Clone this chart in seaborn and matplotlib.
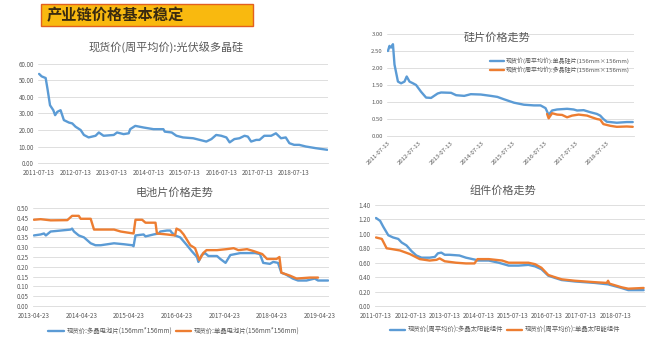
import matplotlib
matplotlib.use("Agg")
import matplotlib.pyplot as plt
import seaborn as sns
import pandas as pd
from matplotlib.patches import Rectangle

sns.set_theme(style="white")
plt.rcParams['font.family'] = ['Noto Sans CJK SC', 'DejaVu Sans']

BLUE = "#5B9BD5"
ORANGE = "#ED7D31"
GRID = "#D9D9D9"
TXT = "#595959"

header = "产业链价格基本稳定"

# ---------- Panel 1: polysilicon ----------
poly_title = "现货价(周平均价):光伏级多晶硅"
poly_t = [2011.53, 2011.60, 2011.71, 2011.76, 2011.83, 2011.92, 2011.97, 2012.03, 2012.12, 2012.21,
          2012.35, 2012.44, 2012.53, 2012.67, 2012.76, 2012.89, 2013.08, 2013.17, 2013.30, 2013.58,
          2013.67, 2013.85, 2013.99, 2014.03, 2014.17, 2014.40, 2014.67, 2014.94, 2014.98, 2015.17,
          2015.30, 2015.48, 2015.76, 2015.94, 2016.12, 2016.26, 2016.39, 2016.53, 2016.67, 2016.76,
          2016.89, 2017.03, 2017.17, 2017.26, 2017.35, 2017.49, 2017.58, 2017.71, 2017.90, 2018.03,
          2018.17, 2018.30, 2018.40, 2018.53, 2018.67, 2018.85, 2019.12, 2019.44]
poly_v = [54.0, 52.5, 51.5, 45.0, 35.0, 32.0, 29.0, 31.0, 32.0, 26.0,
          24.5, 24.0, 22.0, 20.0, 17.0, 15.5, 16.5, 18.5, 16.5, 17.0,
          18.5, 17.5, 18.0, 20.5, 22.5, 21.5, 20.5, 20.5, 19.0, 18.5,
          16.5, 15.5, 15.0, 14.0, 13.0, 14.5, 17.0, 16.5, 15.5, 12.5,
          14.5, 15.0, 16.5, 16.0, 13.0, 14.0, 14.0, 16.5, 16.5, 18.0,
          15.0, 15.5, 12.0, 11.0, 11.0, 10.0, 9.0, 8.0]
poly_ticks = ["2011-07-13", "2012-07-13", "2013-07-13", "2014-07-13",
              "2015-07-13", "2016-07-13", "2017-07-13", "2018-07-13"]

# ---------- Panel 2: wafers ----------
wafer_title = "硅片价格走势"
wafer_labels = ["现货价(周平均价):单晶硅片(156mm×156mm)", "现货价(周平均价):多晶硅片(156mm×156mm)"]
wafer_mono_t = [2011.53, 2011.58, 2011.63, 2011.69, 2011.74, 2011.85, 2011.95, 2012.06, 2012.13, 2012.22,
                2012.33, 2012.43, 2012.59, 2012.75, 2012.91, 2013.12, 2013.23, 2013.55, 2013.71, 2013.97,
                2014.18, 2014.50, 2014.82, 2015.03, 2015.24, 2015.56, 2015.88, 2016.20, 2016.41, 2016.57,
                2016.67, 2016.78, 2016.94, 2017.26, 2017.47, 2017.58, 2017.79, 2018.00, 2018.21, 2018.32,
                2018.42, 2018.53, 2018.85, 2019.17, 2019.36]
wafer_mono_v = [2.50, 2.65, 2.60, 2.70, 2.10, 1.60, 1.55, 1.60, 1.75, 1.60,
                1.55, 1.50, 1.30, 1.13, 1.12, 1.25, 1.28, 1.27, 1.20, 1.18,
                1.23, 1.22, 1.18, 1.15, 1.08, 0.98, 0.92, 0.90, 0.90, 0.82,
                0.62, 0.75, 0.78, 0.80, 0.78, 0.75, 0.76, 0.70, 0.65, 0.60,
                0.50, 0.42, 0.39, 0.41, 0.41]
wafer_multi_t = [2016.62, 2016.67, 2016.78, 2016.94, 2017.10, 2017.26, 2017.42, 2017.63, 2017.90, 2018.05,
                 2018.21, 2018.32, 2018.42, 2018.64, 2018.85, 2019.17, 2019.36]
wafer_multi_v = [0.65, 0.52, 0.67, 0.63, 0.62, 0.55, 0.60, 0.63, 0.60, 0.55,
                 0.50, 0.48, 0.35, 0.30, 0.27, 0.28, 0.27]

# ---------- Panel 3: cells ----------
cell_title = "电池片价格走势"
cell_labels = ["现货价:多晶电池片(156mm*156mm)", "现货价:单晶电池片(156mm*156mm)"]
cell_multi_t = [2013.31, 2013.45, 2013.52, 2013.56, 2013.66, 2013.87, 2014.08, 2014.11, 2014.15, 2014.25,
                2014.36, 2014.50, 2014.60, 2014.71, 2014.85, 2014.99, 2015.20, 2015.37, 2015.40, 2015.44,
                2015.61, 2015.65, 2015.82, 2015.93, 2015.96, 2016.10, 2016.17, 2016.20, 2016.27, 2016.38,
                2016.52, 2016.62, 2016.73, 2016.76, 2016.83, 2016.90, 2016.97, 2017.15, 2017.22, 2017.33,
                2017.43, 2017.64, 2017.78, 2017.95, 2018.05, 2018.12, 2018.26, 2018.33, 2018.43, 2018.50,
                2018.60, 2018.74, 2018.85, 2019.03, 2019.20, 2019.27, 2019.48]
cell_multi_v = [0.360, 0.365, 0.370, 0.360, 0.380, 0.385, 0.390, 0.395, 0.380, 0.360,
                0.350, 0.320, 0.310, 0.310, 0.315, 0.320, 0.315, 0.310, 0.305, 0.360,
                0.365, 0.355, 0.365, 0.370, 0.380, 0.385, 0.385, 0.375, 0.360, 0.350,
                0.310, 0.280, 0.250, 0.225, 0.260, 0.270, 0.255, 0.255, 0.240, 0.220,
                0.260, 0.270, 0.270, 0.270, 0.265, 0.220, 0.215, 0.225, 0.220, 0.170,
                0.160, 0.140, 0.130, 0.130, 0.140, 0.130, 0.130]
cell_mono_t = [2013.31, 2013.45, 2013.66, 2014.01, 2014.11, 2014.25, 2014.29, 2014.50, 2014.57, 2014.71,
               2014.99, 2015.13, 2015.26, 2015.40, 2015.44, 2015.58, 2015.65, 2015.86, 2015.89, 2016.10,
               2016.27, 2016.30, 2016.38, 2016.45, 2016.59, 2016.69, 2016.78, 2016.86, 2016.93, 2017.15,
               2017.35, 2017.50, 2017.60, 2017.78, 2017.92, 2018.10, 2018.20, 2018.40, 2018.46, 2018.50,
               2018.68, 2018.82, 2019.10, 2019.27]
cell_mono_v = [0.440, 0.443, 0.437, 0.438, 0.460, 0.460, 0.445, 0.445, 0.390, 0.390,
               0.390, 0.380, 0.375, 0.370, 0.440, 0.440, 0.425, 0.425, 0.370, 0.365,
               0.360, 0.395, 0.385, 0.365, 0.310, 0.295, 0.235, 0.270, 0.285, 0.285,
               0.290, 0.295, 0.285, 0.290, 0.280, 0.265, 0.240, 0.240, 0.250, 0.170,
               0.155, 0.140, 0.145, 0.145]
cell_ticks = ["2013-04-23", "2014-04-23", "2015-04-23", "2016-04-23",
              "2017-04-23", "2018-04-23", "2019-04-23"]

# ---------- Panel 4: modules ----------
mod_title = "组件价格走势"
mod_labels = ["现货价(周平均价):多晶太阳能组件", "现货价(周平均价):单晶太阳能组件"]
mod_a_t = [2011.53, 2011.65, 2011.74, 2011.89, 2012.03, 2012.18, 2012.28, 2012.42, 2012.57, 2012.71,
           2012.86, 2013.10, 2013.25, 2013.34, 2013.44, 2013.54, 2013.68, 2013.97, 2014.16, 2014.45,
           2014.50, 2014.83, 2015.12, 2015.41, 2015.70, 2015.99, 2016.18, 2016.37, 2016.57, 2016.76,
           2016.96, 2017.35, 2017.93, 2018.32, 2018.71, 2018.91, 2019.36]
mod_a_v = [1.22, 1.18, 1.10, 0.98, 0.95, 0.93, 0.88, 0.84, 0.76, 0.70,
           0.67, 0.67, 0.68, 0.73, 0.74, 0.71, 0.71, 0.70, 0.67, 0.64,
           0.63, 0.63, 0.60, 0.56, 0.56, 0.57, 0.55, 0.51, 0.42, 0.39,
           0.36, 0.34, 0.32, 0.30, 0.25, 0.22, 0.22]
mod_b_t = [2011.53, 2011.70, 2011.84, 2011.98, 2012.23, 2012.52, 2012.81, 2013.10, 2013.30, 2013.39,
           2013.54, 2013.87, 2014.16, 2014.41, 2014.50, 2014.83, 2015.22, 2015.41, 2015.99, 2016.18,
           2016.37, 2016.57, 2016.76, 2016.96, 2017.35, 2017.93, 2018.28, 2018.32, 2018.36, 2018.71,
           2018.91, 2019.36]
mod_b_v = [0.95, 0.93, 0.80, 0.79, 0.77, 0.72, 0.65, 0.63, 0.64, 0.66,
           0.62, 0.60, 0.59, 0.59, 0.65, 0.65, 0.63, 0.60, 0.60, 0.58,
           0.53, 0.43, 0.40, 0.37, 0.35, 0.33, 0.32, 0.35, 0.31, 0.26,
           0.24, 0.25]


def dec_year(s):
    d = pd.Timestamp(s)
    return d.year + (d.dayofyear - 1) / 365.0


def long_df(pairs):
    frames = []
    for name, t, v in pairs:
        frames.append(pd.DataFrame({"t": t, "v": v, "s": name}))
    return pd.concat(frames, ignore_index=True)


def style_axes(ax, yticks, fmt, xticks, xlabels, rot=0, fs=4.5, xpad=4.5):
    ax.set_yticks(yticks)
    ax.set_yticklabels([fmt.format(y) for y in yticks], fontsize=fs, color=TXT)
    ax.set_xticks(xticks)
    if rot:
        ax.set_xticklabels(xlabels, fontsize=fs, color=TXT, rotation=rot,
                           ha="right", rotation_mode="anchor")
    else:
        ax.set_xticklabels(xlabels, fontsize=fs, color=TXT)
    ax.grid(axis="y", color=GRID, linewidth=0.6)
    ax.grid(axis="x", visible=False)
    for sp in ["top", "right", "left"]:
        ax.spines[sp].set_visible(False)
    ax.spines["bottom"].set_color(GRID)
    ax.spines["bottom"].set_linewidth(0.6)
    ax.tick_params(axis="y", length=0, pad=3)
    ax.tick_params(axis="x", length=0, pad=xpad)
    ax.set_xlabel("")
    ax.set_ylabel("")


W, H = 660, 346
fig = plt.figure(figsize=(6.6, 3.46), dpi=100)
fig.patch.set_facecolor("white")


def fax(l, r, top, bot):
    return fig.add_axes([l / W, 1 - bot / H, (r - l) / W, (bot - top) / H])


# header box
fig.add_artist(Rectangle((41 / W, 1 - 26 / H), 212 / W, 22 / H, transform=fig.transFigure,
                         facecolor="#F9B90F", edgecolor="#E2601F", linewidth=1.0))
fig.text(47 / W, 1 - 15 / H, header, fontsize=11, fontweight="bold", color="#3A2A10",
         va="center", ha="left")

# Panel 1
ax1 = fax(38, 328, 64, 163)
sns.lineplot(data=pd.DataFrame({"t": poly_t, "v": poly_v}), x="t", y="v", ax=ax1,
             color=BLUE, linewidth=1.7)
ax1.set_xlim(2011.50, 2019.46)
ax1.set_ylim(0, 60)
style_axes(ax1, [0, 10, 20, 30, 40, 50, 60], "{:.2f}",
           [dec_year(s) for s in poly_ticks], poly_ticks)
fig.text(166 / W, 1 - 47 / H, poly_title, fontsize=8, color=TXT, ha="center", va="center")

# Panel 2
ax2 = fax(387, 634, 34, 136)
df2 = long_df([(wafer_labels[0], wafer_mono_t, wafer_mono_v),
               (wafer_labels[1], wafer_multi_t, wafer_multi_v)])
sns.lineplot(data=df2, x="t", y="v", hue="s", palette=[BLUE, ORANGE], ax=ax2,
             linewidth=1.7, legend=False)
ax2.set_xlim(2011.50, 2019.40)
ax2.set_ylim(0, 3)
style_axes(ax2, [0, 0.5, 1.0, 1.5, 2.0, 2.5, 3.0], "{:.2f}",
           [dec_year(s) for s in poly_ticks], poly_ticks, rot=45, fs=4.3, xpad=3)
fig.text(497 / W, 1 - 38 / H, wafer_title, fontsize=8, color=TXT, ha="center", va="center")
ax2.legend(ax2.get_lines()[:2], wafer_labels, loc="upper left",
           bbox_to_anchor=(488 / W, 1 - 55 / H), bbox_transform=fig.transFigure,
           frameon=False, fontsize=4.3, handlelength=2.2, labelspacing=0.5,
           handletextpad=0.4, borderaxespad=0, labelcolor=TXT)

# Panel 3
ax3 = fax(33, 329, 208, 306)
df3 = long_df([(cell_labels[0], cell_multi_t, cell_multi_v),
               (cell_labels[1], cell_mono_t, cell_mono_v)])
sns.lineplot(data=df3, x="t", y="v", hue="s", palette=[BLUE, ORANGE], ax=ax3,
             linewidth=1.7, legend=False)
ax3.set_xlim(2013.29, 2019.50)
ax3.set_ylim(0, 0.5)
style_axes(ax3, [0, 0.05, 0.1, 0.15, 0.2, 0.25, 0.3, 0.35, 0.4, 0.45, 0.5], "{:.2f}",
           [dec_year(s) for s in cell_ticks], cell_ticks)
fig.text(175 / W, 1 - 193 / H, cell_title, fontsize=8, color=TXT, ha="center", va="center")
ax3.legend(ax3.get_lines()[:2], cell_labels, loc="center",
           bbox_to_anchor=(174 / W, 1 - 331 / H), bbox_transform=fig.transFigure,
           frameon=False, fontsize=4.6, ncol=2, handlelength=2.4, columnspacing=0.6,
           handletextpad=0.4, borderaxespad=0, labelcolor=TXT)

# Panel 4
ax4 = fax(375, 645, 205, 306)
df4 = long_df([(mod_labels[0], mod_a_t, mod_a_v),
               (mod_labels[1], mod_b_t, mod_b_v)])
sns.lineplot(data=df4, x="t", y="v", hue="s", palette=[BLUE, ORANGE], ax=ax4,
             linewidth=1.7, legend=False)
ax4.set_xlim(2011.50, 2019.40)
ax4.set_ylim(0, 1.4)
style_axes(ax4, [0, 0.2, 0.4, 0.6, 0.8, 1.0, 1.2, 1.4], "{:.2f}",
           [dec_year(s) for s in poly_ticks], poly_ticks)
fig.text(503 / W, 1 - 190 / H, mod_title, fontsize=8, color=TXT, ha="center", va="center")
ax4.legend(ax4.get_lines()[:2], mod_labels, loc="center",
           bbox_to_anchor=(505 / W, 1 - 330 / H), bbox_transform=fig.transFigure,
           frameon=False, fontsize=4.6, ncol=2, handlelength=2.4, columnspacing=0.6,
           handletextpad=0.4, borderaxespad=0, labelcolor=TXT)

fig.savefig("out.png", dpi=100, facecolor="white")
